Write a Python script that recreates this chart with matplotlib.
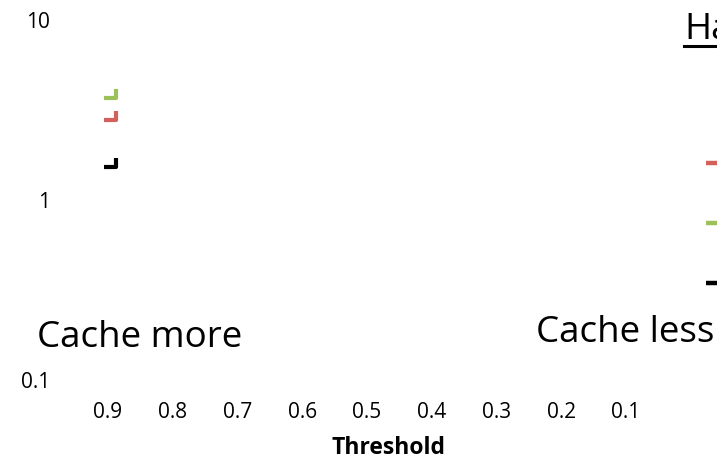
import matplotlib
matplotlib.use("Agg")
import matplotlib.pyplot as plt
from matplotlib.path import Path
from matplotlib.lines import Line2D

plt.rcParams['font.family'] = ['Open Sans', 'DejaVu Sans']

# threshold categories, drawn left to right from 0.9 down to 0.1
thresholds = ["0.9", "0.8", "0.7", "0.6", "0.5", "0.4", "0.3", "0.2", "0.1"]

# series points at the first threshold (category index 0)
left_pos = 0.05
left_green = 3.8
left_red = 2.85
left_black = 1.56

# series points just past the last threshold
right_pos = 9.33
right_red = 1.58
right_green = 0.74
right_black = 0.34

GREEN = "#9dc15a"
RED = "#d3605a"
BLACK = "#000000"

# L-shaped marker: short stem on the right, foot along the bottom
corner = Path([(0.7, 0.9), (0.7, -0.4), (-1.0, -0.4)],
              [Path.MOVETO, Path.LINETO, Path.LINETO])

fig = plt.figure(figsize=(7.17, 4.6), dpi=100)
ax = fig.add_axes([60 / 717, 80 / 460, 657 / 717, 360 / 460])
ax.set_yscale("log")
ax.set_ylim(0.1, 10)
ax.set_xlim(-0.741, 9.405)

for v, c in [(left_green, GREEN), (left_red, RED), (left_black, BLACK)]:
    ax.plot([left_pos], [v], marker=corner, markersize=10, mew=3,
            color=c, mfc="none", linestyle="none", clip_on=False)

for v, c in [(right_red, RED), (right_green, GREEN), (right_black, BLACK)]:
    ax.plot([right_pos], [v], marker="_", markersize=9, mew=3.2,
            color=c, linestyle="none", clip_on=False)

for s in ax.spines.values():
    s.set_visible(False)

ax.set_yticks([0.1, 1, 10])
ax.set_yticklabels(["0.1", "1", "10"])
ax.minorticks_off()
ax.set_xticks(range(len(thresholds)))
ax.set_xticklabels(thresholds)
ax.tick_params(axis="y", length=0, pad=7, labelsize=15)
ax.tick_params(axis="x", length=0, pad=16, labelsize=15)
ax.set_xlabel("Threshold", fontsize=16.5, fontweight="bold", labelpad=9)

fig.text(37 / 717, 1 - 338 / 460, "Cache more", fontsize=26.5, va="center", ha="left")
fig.text(536 / 717, 1 - 333 / 460, "Cache less", fontsize=26.5, va="center", ha="left")

title = fig.text(684 / 717, 1 - 30 / 460, "Hadoop", fontsize=26.5, va="center", ha="left")
fig.canvas.draw()
bb = title.get_window_extent()
y_ul = 1 - 47 / 460
fig.add_artist(Line2D([bb.x0 / fig.bbox.width, bb.x1 / fig.bbox.width], [y_ul, y_ul],
                      transform=fig.transFigure, color="black", lw=2.2))

fig.savefig("out.png", dpi=100)
